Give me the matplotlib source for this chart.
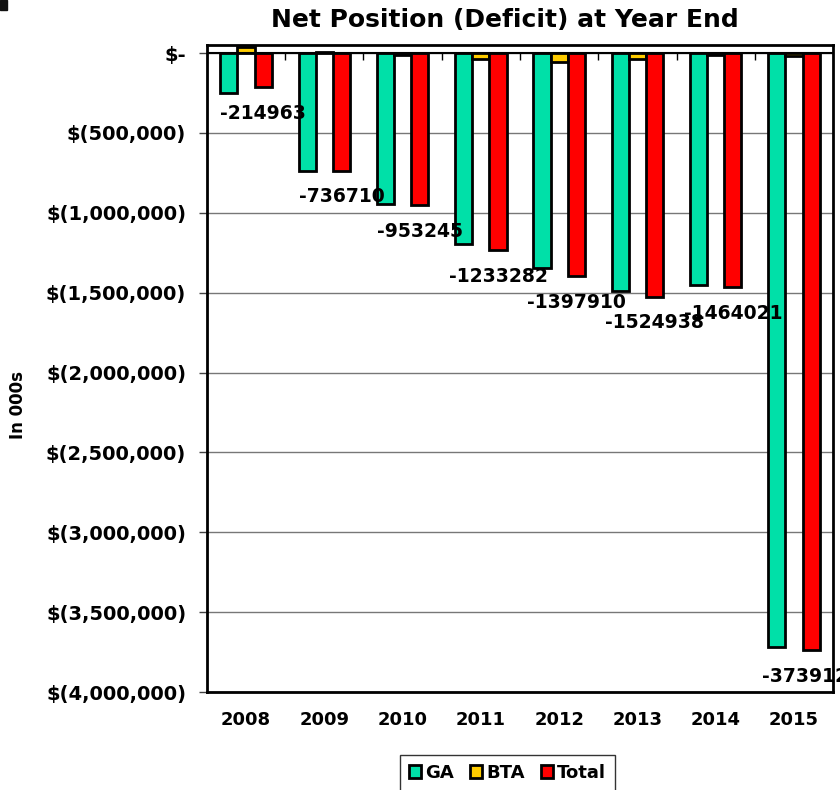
import numpy as np
import matplotlib
matplotlib.use('Agg')
import matplotlib.pyplot as plt
from matplotlib.patches import Rectangle

# values in 000s
years = ['2008', '2009', '2010', '2011', '2012', '2013', '2014', '2015']
ga = [-251000, -740000, -942000, -1193000, -1344000, -1489000, -1451000, -3719000]
bta = [36037, 3290, -11245, -40282, -53910, -35938, -13021, -20126]
total = [-214963, -736710, -953245, -1233282, -1397910, -1524938, -1464021, -3739126]

series_names = ['GA', 'BTA', 'Total']
colors = ['#00e0a8', '#ffcc00', '#ff0000']

y_ticks = np.arange(0, -4000001, -500000)

plt.rcParams['font.family'] = 'DejaVu Sans'
plt.rcParams['font.weight'] = 'bold'

fig = plt.figure(figsize=(8.4, 7.9), dpi=100)
ax = fig.add_axes([0.2464, 0.124, 0.9917 - 0.2464, 0.943 - 0.124])

x = np.arange(len(years))
w = 0.22
for i, (vals, name, c) in enumerate(zip([ga, bta, total], series_names, colors)):
    ax.bar(x + (i - 1) * w, vals, width=w, color=c, edgecolor='black',
           linewidth=2, label=name, zorder=3)

# data labels under the Total bars (last one runs off the edge, as in the original)
for xi, v in zip(x, total):
    ax.annotate(str(v), (xi + w, v), xytext=(0, -12), textcoords='offset points',
                ha='center', va='top', fontsize=13.5, fontweight='bold', zorder=5,
                annotation_clip=False)

ax.set_xlim(-0.5, len(years) - 0.5)
ax.set_ylim(-4000000, 50000)
ax.set_yticks(y_ticks)


def money(v):
    if v == 0:
        return '$-'
    return '$({:,.0f})'.format(abs(v))


ax.set_yticklabels([money(v) for v in y_ticks], fontsize=14, fontweight='bold')
ax.set_xticks(x)
ax.set_xticklabels(years, fontsize=13, fontweight='bold')
ax.tick_params(axis='x', length=0, pad=14)
ax.tick_params(axis='y', length=6, width=1, color='#444444', pad=9)

ax.grid(axis='y', color='#777777', linewidth=1, zorder=0)
ax.axhline(0, color='black', linewidth=1.5, zorder=4)
# category tick marks on the zero axis
ax.vlines(np.arange(0.5, len(years) - 0.5), 0, -45000, color='black', linewidth=1, zorder=4)

for s in ax.spines.values():
    s.set_linewidth(2)
    s.set_color('black')

fig.text(0.601, 0.975, 'Net Position (Deficit) at Year End', fontsize=18,
         fontweight='bold', ha='center', va='center')
fig.text(0.022, 0.487, 'In 000s', rotation=90, fontsize=12, fontweight='bold',
         ha='center', va='center')

leg = fig.legend(loc='upper center', bbox_to_anchor=(0.604, 0.0443), ncol=3,
                 prop={'size': 13, 'weight': 'bold'}, frameon=True, fancybox=False,
                 handlelength=0.7, handleheight=0.7, handletextpad=0.2,
                 columnspacing=0.9, borderpad=0.5, borderaxespad=0)
leg.get_frame().set_edgecolor('black')
leg.get_frame().set_linewidth(1)

# small dark mark in the top-left corner
fig.patches.append(Rectangle((0, 0.987), 0.008, 0.013, transform=fig.transFigure,
                             color='#111111', figure=fig))

fig.savefig('out.png', dpi=100)
